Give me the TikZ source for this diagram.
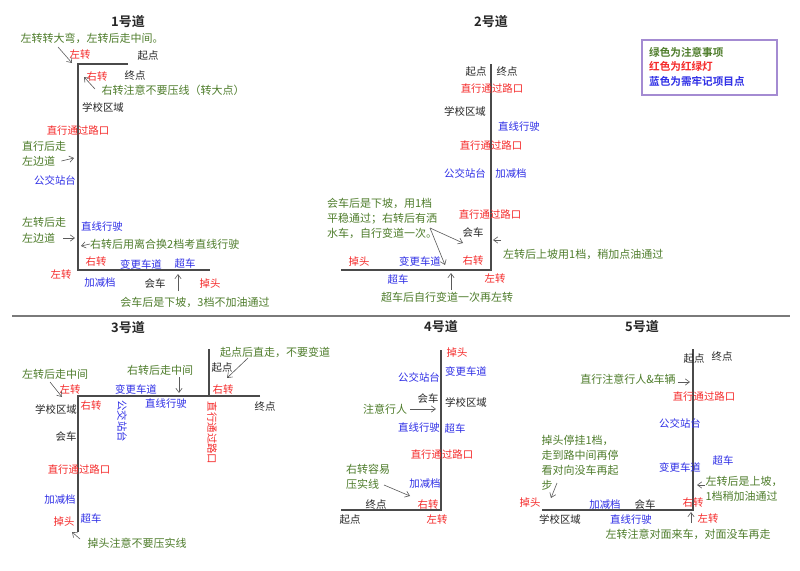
\documentclass[tikz,border=0pt]{standalone}
\usepackage{fontspec}
\setmainfont{Noto Sans CJK SC}[BoldFont={Noto Sans CJK SC Bold}]
\usepackage{tikz}
\usetikzlibrary{arrows.meta}
\usepackage{xcolor}
\definecolor{MapGreen}{HTML}{4F7D2C}
\definecolor{MapRed}{HTML}{F52A2A}
\definecolor{MapBlue}{HTML}{2E2EE6}
\definecolor{MapInk}{HTML}{262626}
\definecolor{MapRoad}{HTML}{4A4A4A}
\definecolor{MapArrow}{HTML}{5A5A5A}
\definecolor{MapFrame}{HTML}{A48BD2}
\definecolor{MapRule}{HTML}{7A7A7A}
\tikzset{
  road/.style={draw=MapRoad,line width=1.1pt},
  pointer/.style={-{Straight Barb[length=1.5mm,width=2.2mm]},line width=0.6pt,draw=MapArrow},
  remark/.style={text=MapGreen,font=\fontsize{11}{15}\selectfont,inner sep=0pt,align=left},
  lightlabel/.style={text=MapRed,font=\fontsize{10.4}{12}\selectfont,inner sep=0pt},
  keylabel/.style={text=MapBlue,font=\fontsize{10.4}{12}\selectfont,inner sep=0pt},
  sitelabel/.style={text=MapInk,font=\fontsize{10.4}{12}\selectfont,inner sep=0pt},
  heading/.style={text=MapInk,font=\bfseries\fontsize{13}{15}\selectfont,inner sep=0pt},
  legendframe/.style={draw=MapFrame,line width=1.6pt,fill=white},
  legendline/.style={font=\bfseries\fontsize{10.6}{12}\selectfont,inner sep=0pt,anchor=west}
}

\begin{document}
\begin{tikzpicture}[x=1pt,y=-1pt]
  \useasboundingbox[fill=white] (0,0) rectangle (800,570);

  % lane 1
  \node[heading] (title1) at (128,22) {1号道};
  \coordinate (l1a) at (128,64);
  \coordinate (l1b) at (78,64);
  \coordinate (l1c) at (78,270);
  \coordinate (l1d) at (210,270);
  \draw[road] (l1a) -- (l1b) -- (l1c) -- (l1d);
  \node[remark] (note1a) at (92,38) {左转转大弯，左转后走中间。};
  \node[lightlabel] (left1a) at (80,55) {左转};
  \node[sitelabel] (start1) at (148,56) {起点};
  \node[lightlabel] (right1a) at (97,77) {右转};
  \node[sitelabel] (end1) at (135,76) {终点};
  \node[remark] (note1b) at (173,90) {右转注意不要压线（转大点）};
  \node[sitelabel] (school1) at (103,108) {学校区域};
  \node[lightlabel] (cross1) at (78,131) {直行通过路口};
  \node[remark,anchor=west] (note1c) at (22,146) {直行后走};
  \node[remark,anchor=west] (note1d) at (22,161) {左边道};
  \node[keylabel] (bus1) at (55,181) {公交站台};
  \node[remark,anchor=west] (note1e) at (22,222) {左转后走};
  \node[remark,anchor=west] (note1f) at (22,238) {左边道};
  \node[keylabel] (straight1) at (102,227) {直线行驶};
  \node[remark,anchor=west] (note1g) at (90,244) {右转后用离合换2档考直线行驶};
  \node[lightlabel] (right1b) at (96,262) {右转};
  \node[keylabel] (change1) at (141,265) {变更车道};
  \node[keylabel] (pass1) at (185,264) {超车};
  \node[lightlabel] (left1b) at (61,275) {左转};
  \node[keylabel] (gear1) at (100,283) {加减档};
  \node[sitelabel] (meet1) at (155,284) {会车};
  \node[lightlabel] (uturn1) at (210,284) {掉头};
  \node[remark] (note1h) at (195,302) {会车后是下坡，3档不加油通过};
  \coordinate (a1a) at (58,47);  \coordinate (a1b) at (72,63);
  \coordinate (a1c) at (95,89);  \coordinate (a1d) at (84,77);
  \coordinate (a1e) at (74,158);
  \coordinate (a1f) at (75,238);
  \coordinate (a1g) at (81,246);
  \coordinate (a1h) at (178,291); \coordinate (a1i) at (178,274);
  \draw[pointer] (a1a) -- (a1b);
  \draw[pointer] (a1c) -- (a1d);
  \draw[pointer] (note1d.east) ++(6,0) -- (a1e);
  \draw[pointer] (note1f.east) ++(8,0) -- (a1f);
  \draw[pointer] (note1g.west) -- (a1g);
  \draw[pointer] (a1h) -- (a1i);

  % lane 2
  \node[heading] (title2) at (491,22) {2号道};
  \coordinate (l2a) at (491,64);
  \coordinate (l2b) at (491,270);
  \coordinate (l2c) at (341,270);
  \draw[road] (l2a) -- (l2b) -- (l2c);
  \node[sitelabel] (start2) at (476,72) {起点};
  \node[sitelabel] (end2) at (507,72) {终点};
  \node[lightlabel] (cross2a) at (492,89) {直行通过路口};
  \node[sitelabel] (school2) at (465,112) {学校区域};
  \node[keylabel] (straight2) at (519,127) {直线行驶};
  \node[lightlabel] (cross2b) at (491,146) {直行通过路口};
  \node[keylabel] (bus2) at (465,174) {公交站台};
  \node[keylabel] (gear2) at (511,174) {加减档};
  \node[remark] (note2a) at (382,218) {会车后是下坡，用1档\\平稳通过；右转后有洒\\水车，自行变道一次。};
  \node[lightlabel] (cross2c) at (490,215) {直行通过路口};
  \node[sitelabel] (meet2) at (473,233) {会车};
  \node[remark,anchor=west] (note2b) at (503,254) {左转后上坡用1档，稍加点油通过};
  \node[lightlabel] (uturn2) at (359,262) {掉头};
  \node[keylabel] (change2) at (420,262) {变更车道};
  \node[lightlabel] (right2) at (473,261) {右转};
  \node[keylabel] (pass2) at (398,280) {超车};
  \node[lightlabel] (left2) at (495,279) {左转};
  \node[remark] (note2c) at (447,297) {超车后自行变道一次再左转};
  \coordinate (a2a) at (430,228);
  \coordinate (a2b) at (463,243);
  \coordinate (a2c) at (445,265);
  \coordinate (a2d) at (501,240); \coordinate (a2e) at (493,240);
  \coordinate (a2f) at (451,290); \coordinate (a2g) at (451,273);
  \draw[pointer] (a2a) -- (a2b);
  \draw[pointer] (a2a) -- (a2c);
  \draw[pointer] (a2d) -- (a2e);
  \draw[pointer] (a2f) -- (a2g);

  % legend
  \node[legendframe,minimum width=135pt,minimum height=55pt] (legend) at (709.5,67.5) {};
  \node[legendline,text=MapGreen] (legendgreen) at (649,52) {绿色为注意事项};
  \node[legendline,text=MapRed] (legendred) at (649,66) {红色为红绿灯};
  \node[legendline,text=MapBlue] (legendblue) at (649,81) {蓝色为需牢记项目点};

  % separator
  \coordinate (rulel) at (12,316);
  \coordinate (ruler) at (790,316);
  \draw[draw=MapRule,line width=2.6pt] (rulel) -- (ruler);

  % lane 3
  \node[heading] (title3) at (128,328) {3号道};
  \coordinate (l3a) at (209,349);
  \coordinate (l3b) at (209,396);
  \coordinate (l3c) at (78,396);
  \coordinate (l3d) at (260,396);
  \coordinate (l3e) at (78,532);
  \draw[road] (l3a) -- (l3b);
  \draw[road] (l3d) -- (l3c) -- (l3e);
  \node[remark] (note3a) at (55,374) {左转后走中间};
  \node[lightlabel] (left3) at (70,390) {左转};
  \node[keylabel] (change3) at (136,390) {变更车道};
  \node[remark] (note3b) at (160,370) {右转后走中间};
  \node[remark] (note3c) at (275,352) {起点后直走，不要变道};
  \node[sitelabel] (start3) at (222,368) {起点};
  \node[lightlabel] (right3a) at (223,390) {右转};
  \node[lightlabel] (right3b) at (91,406) {右转};
  \node[keylabel,rotate=-90] (bus3) at (122,421) {公交站台};
  \node[keylabel] (straight3) at (166,404) {直线行驶};
  \node[lightlabel,rotate=-90] (cross3a) at (212,433) {直行通过路口};
  \node[sitelabel] (end3) at (265,407) {终点};
  \node[sitelabel] (school3) at (56,410) {学校区域};
  \node[sitelabel] (meet3) at (66,437) {会车};
  \node[lightlabel] (cross3b) at (79,470) {直行通过路口};
  \node[keylabel] (gear3) at (60,500) {加减档};
  \node[lightlabel] (uturn3) at (64,522) {掉头};
  \node[keylabel] (pass3) at (91,519) {超车};
  \node[remark] (note3d) at (137,543) {掉头注意不要压实线};
  \coordinate (a3a) at (50,382);  \coordinate (a3b) at (62,397);
  \coordinate (a3c) at (179,377); \coordinate (a3d) at (179,393);
  \coordinate (a3e) at (248,358); \coordinate (a3f) at (227,378);
  \coordinate (a3g) at (80,539);  \coordinate (a3h) at (72,532);
  \draw[pointer] (a3a) -- (a3b);
  \draw[pointer] (a3c) -- (a3d);
  \draw[pointer] (a3e) -- (a3f);
  \draw[pointer] (a3g) -- (a3h);

  % lane 4
  \node[heading] (title4) at (441,327) {4号道};
  \coordinate (l4a) at (441,350);
  \coordinate (l4b) at (441,510);
  \coordinate (l4c) at (341,510);
  \draw[road] (l4a) -- (l4b) -- (l4c);
  \node[lightlabel] (uturn4) at (457,353) {掉头};
  \node[keylabel] (bus4) at (419,378) {公交站台};
  \node[keylabel] (change4) at (466,372) {变更车道};
  \node[sitelabel] (meet4) at (428,399) {会车};
  \node[sitelabel] (school4) at (466,403) {学校区域};
  \node[remark] (note4a) at (385,409) {注意行人};
  \node[keylabel] (straight4) at (419,428) {直线行驶};
  \node[keylabel] (pass4) at (455,429) {超车};
  \node[lightlabel] (cross4) at (442,455) {直行通过路口};
  \node[remark] (note4b) at (368,477) {右转容易\\压实线};
  \node[keylabel] (gear4) at (425,484) {加减档};
  \node[sitelabel] (end4) at (376,505) {终点};
  \node[lightlabel] (right4) at (428,505) {右转};
  \node[sitelabel] (start4) at (350,520) {起点};
  \node[lightlabel] (left4) at (437,520) {左转};
  \coordinate (a4a) at (436,409);
  \coordinate (a4b) at (384,485); \coordinate (a4c) at (410,496);
  \draw[pointer] (note4a.east) ++(3,0) -- (a4a);
  \draw[pointer] (a4b) -- (a4c);

  % lane 5
  \node[heading] (title5) at (642,327) {5号道};
  \coordinate (l5a) at (693,349);
  \coordinate (l5b) at (693,510);
  \coordinate (l5c) at (542,510);
  \draw[road] (l5a) -- (l5b) -- (l5c);
  \node[sitelabel] (start5) at (694,359) {起点};
  \node[sitelabel] (end5) at (722,357) {终点};
  \node[remark] (note5a) at (628,379) {直行注意行人\&车辆};
  \node[lightlabel] (cross5) at (704,397) {直行通过路口};
  \node[keylabel] (bus5) at (680,424) {公交站台};
  \node[remark] (note5b) at (580,462.5) {掉头停挂1档，\\走到路中间再停\\看对向没车再起\\步};
  \node[keylabel] (pass5) at (723,461) {超车};
  \node[keylabel] (change5) at (680,468) {变更车道};
  \node[remark] (note5c) at (744,489) {左转后是上坡，\\1档稍加油通过};
  \node[lightlabel] (uturn5) at (530,503) {掉头};
  \node[keylabel] (gear5) at (605,505) {加减档};
  \node[sitelabel] (meet5) at (645,505) {会车};
  \node[lightlabel] (right5) at (693,503) {右转};
  \node[sitelabel] (school5) at (560,519) {学校区域};
  \node[keylabel] (straight5) at (631,520) {直线行驶};
  \node[lightlabel] (left5) at (708,519) {左转};
  \node[remark] (note5d) at (688,534) {左转注意对面来车，对面没车再走};
  \coordinate (a5a) at (690,382);
  \coordinate (a5b) at (557,483); \coordinate (a5c) at (551,498);
  \coordinate (a5d) at (705,485); \coordinate (a5e) at (697,485);
  \coordinate (a5f) at (691,523); \coordinate (a5g) at (691,512);
  \draw[pointer] (note5a.east) ++(2,3) -- (a5a);
  \draw[pointer] (a5b) -- (a5c);
  \draw[pointer] (a5d) -- (a5e);
  \draw[pointer] (a5f) -- (a5g);
\end{tikzpicture}
\end{document}
